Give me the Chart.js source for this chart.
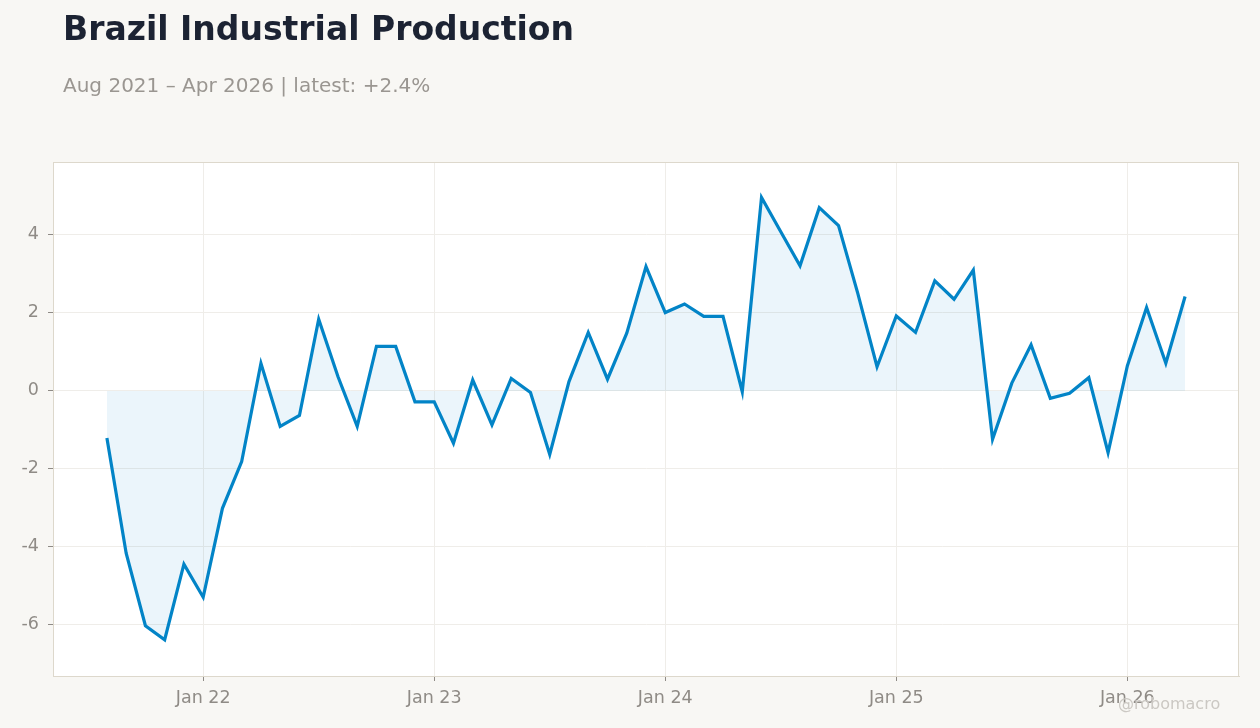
<!DOCTYPE html>
<html>
<head>
<meta charset="utf-8">
<script src="https://cdn.jsdelivr.net/npm/chart.js@4.4.1/dist/chart.umd.min.js"></script>
<style>
  html, body { margin: 0; padding: 0; background: #f8f7f4; }
  body { width: 1260px; height: 728px; position: relative; overflow: hidden; font-family: "DejaVu Sans", sans-serif; }
  #title { position: absolute; left: 63px; top: 9px; font-size: 33px; font-weight: bold; color: #1c2333; white-space: nowrap; }
  #subtitle { position: absolute; left: 63px; top: 73px; font-size: 20px; color: #9a9691; white-space: nowrap; }
  #credit { position: absolute; left: 1118px; top: 694px; font-size: 16px; color: #cbc8c3; }
  #wrap { position: absolute; left: 0; top: 0; width: 1260px; height: 728px; }
</style>
</head>
<body>
<div id="wrap"><canvas id="chart"></canvas></div>
<div id="title">Brazil Industrial Production</div>
<div id="subtitle">Aug 2021 – Apr 2026 | latest: +2.4%</div>
<div id="credit">@robomacro</div>
<script>
// meses, ago 2021 .. abr 2026
const meses = [
  "Aug 21", "Sep 21", "Oct 21", "Nov 21", "Dec 21",
  "Jan 22", "Feb 22", "Mar 22", "Apr 22", "May 22", "Jun 22", "Jul 22", "Aug 22", "Sep 22", "Oct 22", "Nov 22", "Dec 22",
  "Jan 23", "Feb 23", "Mar 23", "Apr 23", "May 23", "Jun 23", "Jul 23", "Aug 23", "Sep 23", "Oct 23", "Nov 23", "Dec 23",
  "Jan 24", "Feb 24", "Mar 24", "Apr 24", "May 24", "Jun 24", "Jul 24", "Aug 24", "Sep 24", "Oct 24", "Nov 24", "Dec 24",
  "Jan 25", "Feb 25", "Mar 25", "Apr 25", "May 25", "Jun 25", "Jul 25", "Aug 25", "Sep 25", "Oct 25", "Nov 25", "Dec 25",
  "Jan 26", "Feb 26", "Mar 26", "Apr 26"
];

// produccion industrial, % a/a
const produccion = [
  -1.21, -4.16, -6.02, -6.38, -4.44,
  -5.29, -3.01, -1.81, 0.71, -0.91, -0.63, 1.84, 0.37, -0.91, 1.14, 1.14, -0.28,
  -0.28, -1.34, 0.28, -0.87, 0.32, -0.04, -1.63, 0.24, 1.50, 0.30, 1.48, 3.19,
  2.01, 2.23, 1.91, 1.91, -0.02, 4.96, 4.08, 3.21, 4.70, 4.24, 2.50, 0.62,
  1.92, 1.50, 2.82, 2.35, 3.10, -1.24, 0.20, 1.18, -0.19, -0.06, 0.34, -1.58,
  0.64, 2.14, 0.71, 2.42
];

const ticksX = ["Jan 22", "Jan 23", "Jan 24", "Jan 25", "Jan 26"];
const ticksY = [-6, -4, -2, 0, 2, 4];

const colorLinea = "#0284c7";
const colorTexto = "#8f8b86";
const colorGrid = "#efede9";
const colorBorde = "#ddd8cc";

// fondo blanco y marco del area de la grafica
const marcoPlugin = {
    id: "marco",
    beforeDraw(chart) {
        const { ctx, chartArea: a } = chart;
        ctx.save();
        ctx.fillStyle = "#ffffff";
        ctx.fillRect(a.left, a.top, a.right - a.left, a.bottom - a.top);
        ctx.restore();
    },
    afterDraw(chart) {
        const { ctx, chartArea: a } = chart;
        ctx.save();
        ctx.strokeStyle = colorBorde;
        ctx.lineWidth = 1;
        ctx.strokeRect(a.left + 0.5, a.top + 0.5, a.right - a.left - 1, a.bottom - a.top);
        ctx.restore();
    }
};

new Chart(document.getElementById("chart"), {
    type: "line",
    data: {
        datasets: [{
            data: produccion.map((v, i) => ({ x: i, y: v })),
            borderColor: colorLinea,
            borderWidth: 3.2,
            backgroundColor: "rgba(2, 132, 199, 0.08)",
            fill: "origin",
            pointRadius: 0,
            tension: 0
        }]
    },
    options: {
        responsive: true,
        maintainAspectRatio: false,
        animation: false,
        layout: { padding: { top: 162, right: 21, left: 0, bottom: 0 } },
        plugins: {
            legend: { display: false },
            tooltip: { enabled: false }
        },
        scales: {
            x: {
                type: "linear",
                min: -2.8,
                max: 58.8,
                afterBuildTicks: s => {
                    s.ticks = ticksX.map(t => ({ value: meses.indexOf(t) }));
                },
                afterFit: s => { s.height = 52; },
                ticks: {
                    color: colorTexto,
                    font: { family: "DejaVu Sans", size: 17.5 },
                    padding: 7,
                    maxRotation: 0,
                    callback: v => meses[v]
                },
                grid: { color: colorGrid, tickColor: colorTexto, tickLength: 5 },
                border: { color: colorBorde }
            },
            y: {
                min: -7.31,
                max: 5.87,
                afterBuildTicks: s => {
                    s.ticks = ticksY.map(v => ({ value: v }));
                },
                afterFit: s => { s.width = 53; },
                ticks: {
                    color: colorTexto,
                    font: { family: "DejaVu Sans", size: 17.5 },
                    padding: 9
                },
                grid: { color: colorGrid, tickColor: colorTexto, tickLength: 5 },
                border: { color: colorBorde }
            }
        }
    },
    plugins: [marcoPlugin]
});
</script>
</body>
</html>
